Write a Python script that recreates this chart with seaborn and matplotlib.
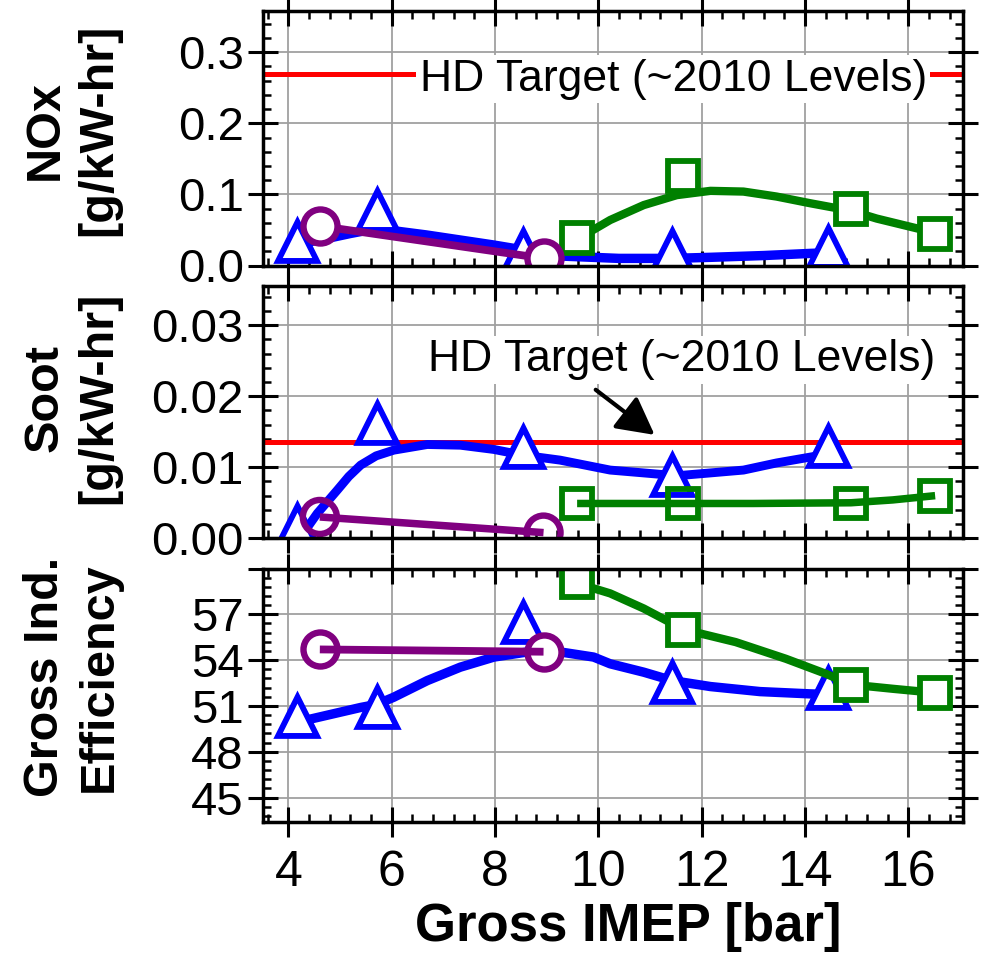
import matplotlib
matplotlib.use("Agg")
import matplotlib.pyplot as plt
import seaborn as sns
from matplotlib.ticker import MultipleLocator, FixedLocator, FuncFormatter

sns.set_theme(style="white")
plt.rcParams["font.family"] = ["Liberation Sans", "DejaVu Sans"]

# ---------------- data ----------------
imep_tri = [4.17, 5.71, 8.54, 11.43, 14.45]
imep_sq = [9.59, 11.64, 14.89, 16.52]
imep_circ = [4.61, 8.94]

nox_tri = [0.035, 0.078, 0.022, 0.022, 0.0265]
nox_sq = [0.039, 0.126, 0.079, 0.044]
nox_circ = [0.0556, 0.010]

soot_tri = [0.0019, 0.0162, 0.0128, 0.0089, 0.0130]
soot_sq = [0.0049, 0.0049, 0.0049, 0.0060]
soot_circ = [0.0030, 0.0008]

eff_tri = [50.35, 50.95, 56.5, 52.55, 52.2]
eff_sq = [59.1, 56.0, 52.4, 51.85]
eff_circ = [54.7, 54.55]

# fitted trend curves
nox_blue_fit_x = [4.17, 4.75, 5.2, 5.71, 6.67, 7.96, 8.54, 9.24, 10.4, 11.43, 12.17, 13.2, 14.1, 14.45]
nox_blue_fit_y = [0.030, 0.038, 0.045, 0.052, 0.043, 0.029, 0.022, 0.0134, 0.010, 0.010, 0.0115, 0.014, 0.017, 0.018]
nox_green_fit_x = [9.59, 9.9, 10.23, 10.88, 11.52, 12.17, 12.81, 13.45, 14.10, 14.89, 15.39, 16.52]
nox_green_fit_y = [0.040, 0.050, 0.064, 0.085, 0.099, 0.105, 0.104, 0.097, 0.0876, 0.077, 0.066, 0.046]

soot_blue_fit_x = [4.17, 4.24, 4.56, 4.95, 5.17, 5.40, 5.70, 6.04, 6.69, 7.33, 7.98, 8.54, 9.26, 10.23, 10.88, 11.52, 12.17, 12.81, 13.45, 14.16, 14.45]
soot_blue_fit_y = [-0.0005, 0.0002, 0.0035, 0.0068, 0.0087, 0.0103, 0.0116, 0.0124, 0.0132, 0.0131, 0.0125, 0.0117, 0.0110, 0.0096, 0.0092, 0.0088, 0.0092, 0.0096, 0.0106, 0.0115, 0.0118]
soot_green_fit_x = [9.59, 11.64, 13.0, 14.89, 15.7, 16.52]
soot_green_fit_y = [0.0049, 0.0049, 0.0049, 0.0050, 0.0054, 0.0060]

eff_blue_fit_x = [4.17, 4.43, 5.40, 5.71, 6.04, 6.69, 7.33, 7.98, 8.62, 9.14, 9.91, 10.23, 10.88, 11.43, 12.17, 13.13, 14.10, 14.45]
eff_blue_fit_y = [50.0, 50.14, 50.9, 51.1, 51.57, 52.66, 53.54, 54.2, 54.53, 54.6, 54.2, 53.76, 53.21, 52.66, 52.27, 51.94, 51.79, 51.75]
eff_green_fit_x = [9.59, 9.91, 10.23, 10.88, 11.64, 12.66, 13.63, 14.41, 14.89, 15.71, 16.52]
eff_green_fit_y = [59.1, 58.7, 58.37, 57.38, 56.02, 55.18, 54.09, 53.1, 52.4, 52.12, 51.86]

nox_target = 0.27
soot_target = 0.0135
target_text = "HD Target (~2010 Levels)"

x_label = "Gross IMEP [bar]"
nox_label = "NOx\n[g/kW-hr]"
soot_label = "Soot\n[g/kW-hr]"
eff_label = "Gross Ind.\nEfficiency"

x_ticks = [4, 6, 8, 10, 12, 14, 16]
nox_ticks = [0.0, 0.1, 0.2, 0.3]
soot_ticks = [0.00, 0.01, 0.02, 0.03]
eff_ticks = [45, 48, 51, 54, 57, 60]

# ---------------- figure ----------------
W, H = 981, 959
fig = plt.figure(figsize=(W / 100, H / 100), dpi=100)


def rect(top, bot, left=262.5, right=962.5):
    return [left / W, 1 - bot / H, (right - left) / W, (bot - top) / H]


ax1 = fig.add_axes(rect(11, 265.5))
ax2 = fig.add_axes(rect(286, 538.3))
ax3 = fig.add_axes(rect(568.5, 822))

BLUE, GREEN, PURPLE, RED = "#0000ff", "#008000", "#800080", "#ff0000"

for ax in (ax1, ax2, ax3):
    ax.set_xlim(3.5, 17.05)
    ax.xaxis.set_major_locator(FixedLocator(x_ticks))
    ax.xaxis.set_minor_locator(MultipleLocator(0.4))
    ax.grid(True, which="major", color="#a0a0a0", lw=1.3)
    ax.set_axisbelow(True)
    for sp in ax.spines.values():
        sp.set_linewidth(2.5)
        sp.set_color("black")
        sp.set_zorder(20)
    ax.tick_params(which="major", direction="inout", length=21, width=2.2,
                   top=True, right=True, bottom=True, left=True,
                   labelsize=34, pad=3, color="black", labelcolor="black")
    ax.tick_params(which="minor", direction="in", length=6, width=1.8,
                   top=True, right=True, bottom=True, left=True, color="black")
    ax.set_facecolor("white")

ax1.tick_params(labelbottom=False)
ax2.tick_params(labelbottom=False)
ax3.tick_params(axis="x", pad=10, labelsize=36)

# y axes
ax1.set_ylim(0, 0.358)
ax1.yaxis.set_major_locator(FixedLocator(nox_ticks))
ax1.yaxis.set_minor_locator(MultipleLocator(0.02))
ax1.yaxis.set_major_formatter(FuncFormatter(lambda v, p: f"{v:.1f}"))

ax2.set_ylim(0, 0.0355)
ax2.yaxis.set_major_locator(FixedLocator(soot_ticks))
ax2.yaxis.set_minor_locator(MultipleLocator(0.002))
ax2.yaxis.set_major_formatter(FuncFormatter(lambda v, p: f"{v:.2f}"))

ax3.set_ylim(43.4, 60)
ax3.yaxis.set_major_locator(FixedLocator(eff_ticks))
ax3.yaxis.set_minor_locator(MultipleLocator(0.6))
ax3.yaxis.set_major_formatter(FuncFormatter(lambda v, p: "" if v >= 59.5 else f"{v:.0f}"))
ax3.xaxis.set_major_formatter(FuncFormatter(lambda v, p: f"{v:.0f}"))

# target lines
ax1.axhline(nox_target, color=RED, lw=3.6, zorder=2)
ax2.axhline(soot_target, color=RED, lw=3.6, zorder=2)

TRI_S, SQ_S, CIRC_S = 28 ** 2, 21.5 ** 2, 24.5 ** 2


def curve(ax, x, y, color, lw, z):
    sns.lineplot(x=x, y=y, ax=ax, color=color, linewidth=lw, sort=False,
                 estimator=None, zorder=z, solid_capstyle="butt",
                 solid_joinstyle="round")


def points(ax, x, y, marker, s, color, face, z, lw=4.2):
    sns.scatterplot(x=x, y=y, ax=ax, marker=marker, s=s, facecolor=face,
                    edgecolor=color, linewidth=lw, zorder=z, joinstyle="miter",
                    legend=False)


# NOx panel
curve(ax1, nox_blue_fit_x, nox_blue_fit_y, BLUE, 6.8, 3)
points(ax1, imep_tri, nox_tri, "^", TRI_S, BLUE, "white", 4)
curve(ax1, nox_green_fit_x, nox_green_fit_y, GREEN, 6.0, 5)
points(ax1, imep_sq, nox_sq, "s", SQ_S, GREEN, "white", 6)
curve(ax1, imep_circ, nox_circ, PURPLE, 5.6, 7)
points(ax1, imep_circ, nox_circ, "o", CIRC_S, PURPLE, "white", 8, lw=4.6)

# Soot panel
curve(ax2, soot_blue_fit_x, soot_blue_fit_y, BLUE, 6.4, 3)
points(ax2, imep_tri, soot_tri, "^", TRI_S, BLUE, "white", 4)
curve(ax2, soot_green_fit_x, soot_green_fit_y, GREEN, 5.4, 5)
points(ax2, imep_sq, soot_sq, "s", SQ_S, GREEN, "none", 6)
curve(ax2, imep_circ, soot_circ, PURPLE, 5.4, 7)
points(ax2, imep_circ, soot_circ, "o", CIRC_S, PURPLE, "none", 8, lw=4.6)

# Efficiency panel
curve(ax3, eff_blue_fit_x, eff_blue_fit_y, BLUE, 6.8, 3)
points(ax3, imep_tri, eff_tri, "^", TRI_S, BLUE, "white", 4)
curve(ax3, eff_green_fit_x, eff_green_fit_y, GREEN, 6.0, 5)
points(ax3, imep_sq, eff_sq, "s", SQ_S, GREEN, "white", 6)
points(ax3, imep_circ, eff_circ, "o", CIRC_S, PURPLE, "white", 7, lw=4.6)
curve(ax3, imep_circ, eff_circ, PURPLE, 5.6, 8)

# annotations
ax1.text(11.45, 0.262, target_text, fontsize=32, ha="center", va="center",
         color="black", zorder=10,
         bbox=dict(boxstyle="square,pad=0.08", fc="white", ec="none"))
ax2.text(11.61, 0.0251, target_text, fontsize=32, ha="center", va="center",
         color="black", zorder=10,
         bbox=dict(boxstyle="square,pad=0.08", fc="white", ec="none"))
ax2.annotate("", xy=(11.09, 0.01455), xytext=(9.95, 0.0209), zorder=11,
             arrowprops=dict(arrowstyle="-|>,head_length=0.6,head_width=0.32",
                             lw=3.0, color="black", mutation_scale=38,
                             shrinkA=0, shrinkB=0))

# axis labels
LABEL_FS = 35
for ax, lab, yc in ((ax1, nox_label, 0.532), (ax2, soot_label, 0.556), (ax3, eff_label, 0.572)):
    ax.set_ylabel(lab, fontsize=LABEL_FS, fontweight="bold", linespacing=1.25, color="black")
    ax.yaxis.set_label_coords(-0.272, yc)
    ax.yaxis.label.set_verticalalignment("center")
    ax.set_xlabel("")

ax3.set_xlabel(x_label, fontsize=38, fontweight="bold", color="black")
ax3.xaxis.set_label_coords(0.522, -0.415)
ax3.xaxis.label.set_verticalalignment("center")

fig.savefig("out.png", dpi=100, facecolor="white")
